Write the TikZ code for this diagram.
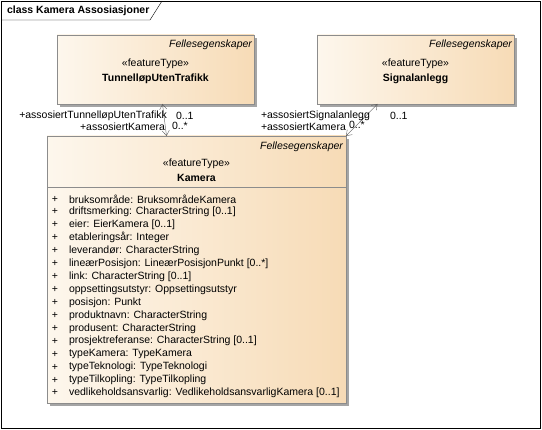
\documentclass[tikz,border=0pt]{standalone}
\usepackage{fontspec}
\setmainfont{Liberation Sans}
\usetikzlibrary{positioning,fit,shapes,calc,shadows,arrows.meta}
\definecolor{boxleft}{RGB}{253,247,237}
\definecolor{boxright}{RGB}{247,219,182}
\definecolor{boxline}{RGB}{140,140,140}
\definecolor{shadegray}{RGB}{165,165,165}
\definecolor{assocline}{RGB}{90,90,90}

\begin{document}
\begin{tikzpicture}[x=1pt,y=-1pt,font=\fontsize{10.5}{12}\selectfont]
\tikzstyle{every node}=[inner sep=0pt,outer sep=0pt]
\tikzstyle{classbox}=[rectangle,draw=boxline,anchor=north west,left color=boxleft,right color=boxright,
  drop shadow={shadow xshift=3pt,shadow yshift=-3pt,fill=shadegray,opacity=1}]
\tikzstyle{tagged}=[anchor=north east,font=\fontsize{10.5}{12}\selectfont\itshape]
\tikzstyle{assoc}=[draw=assocline,{Straight Barb[length=5pt,width=7pt]}-{Straight Barb[length=5pt,width=7pt]}]
\useasboundingbox (0,0) rectangle (542,430);
% the frame
\draw (1,1) rectangle (540,428);
\draw (1,20) -- (150,20) -- (162,1);
\node[anchor=west,font=\fontsize{10.5}{12}\selectfont\bfseries] (title) at (7,11) {class Kamera Assosiasjoner};
% the two feature types above
\node[classbox,minimum width=197pt,minimum height=69pt] (tunnel) at (57,35) {};
\node[tagged] at ($(tunnel.north east)+(-2,5)$) {Fellesegenskaper};
\node (tunnelst) at ($(tunnel.north)+(0,29)$) {«featureType»};
\node[below=5pt of tunnelst,font=\fontsize{10.5}{12}\selectfont\bfseries] (tunnelname) {TunnelløpUtenTrafikk};
\node[classbox,minimum width=197pt,minimum height=69pt] (signal) at (317,35) {};
\node[tagged] at ($(signal.north east)+(-2,5)$) {Fellesegenskaper};
\node (signalst) at ($(signal.north)+(0,29)$) {«featureType»};
\node[below=5pt of signalst,font=\fontsize{10.5}{12}\selectfont\bfseries] (signalname) {Signalanlegg};
% Kamera with its attributes
\node[classbox,minimum width=299pt,minimum height=267pt] (kamera) at (47,136) {};
\node[tagged] at ($(kamera.north east)+(-3,6)$) {Fellesegenskaper};
\node (kamerast) at ($(kamera.north)+(0,28)$) {«featureType»};
\node[below=5pt of kamerast,font=\fontsize{10.5}{12}\selectfont\bfseries] (kameraname) {Kamera};
\draw[boxline] ($(kamera.north west)+(0,51)$) -- ($(kamera.north east)+(0,51)$);
\foreach \attr [count=\i] in {bruksområde: BruksområdeKamera,driftsmerking: CharacterString [0..1],
  eier: EierKamera [0..1],etableringsår: Integer,leverandør: CharacterString,
  lineærPosisjon: LineærPosisjonPunkt [0..*],link: CharacterString [0..1],
  oppsettingsutstyr: Oppsettingsutstyr,posisjon: Punkt,produktnavn: CharacterString,
  produsent: CharacterString,prosjektreferanse: CharacterString [0..1],
  typeKamera: TypeKamera,typeTeknologi: TypeTeknologi,typeTilkopling: TypeTilkopling,
  vedlikeholdsansvarlig: VedlikeholdsansvarligKamera [0..1]}
{
  \node (plus\i) at ($(kamera.north west)+(8,63+12.93*\i-12.93)$) {+};
  \node[anchor=west] (attr\i) at ($(kamera.north west)+(22,63+12.93*\i-12.93)$) {\attr};
}
% the associations
\draw[assoc] ([xshift=7pt]tunnel.south) -- ([xshift=-30pt]kamera.north);
\draw[assoc] ([xshift=-38pt]signal.south) -- (kamera.north east);
\node[anchor=east] (tunnelrole) at (167,115.5) {+assosiertTunnelløpUtenTrafikk};
\node[anchor=west] (tunnelmult) at (176,116) {0..1};
\node[anchor=east] (kamerarole) at (165,126.5) {+assosiertKamera};
\node[anchor=west] (kameramult) at (172,126) {0..*};
\node[anchor=west] (signalrole) at (261,115.5) {+assosiertSignalanlegg};
\node[anchor=west] (signalmult) at (390,116) {0..1};
\node[anchor=west] (kamerarole2) at (261,126.5) {+assosiertKamera};
\node[anchor=west] (kameramult2) at (349,125) {0..*};
\end{tikzpicture}
\end{document}
